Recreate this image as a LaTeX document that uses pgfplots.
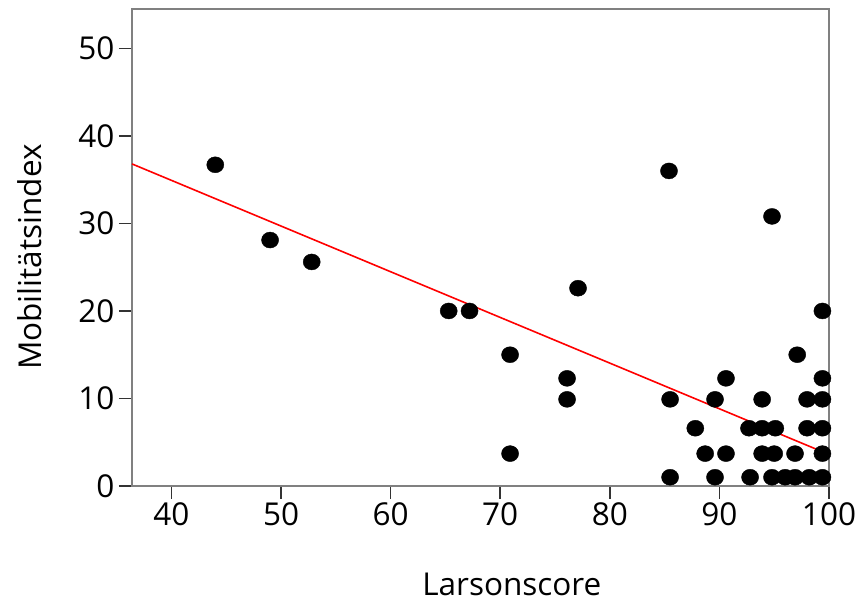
\documentclass[border=0pt]{standalone}
\usepackage{pgfplots}
\pgfplotsset{compat=1.18}
\usepackage{fontspec}
\setmainfont{Open Sans}
\begin{document}
\begin{tikzpicture}[x=1pt,y=1pt]
\begin{axis}[
  scale only axis,
  width=697pt, height=477pt,
  xmin=36.4, xmax=100, ymin=0, ymax=54.5,
  xtick={40,50,60,70,80,90,100},
  ytick={0,10,20,30,40,50},
  axis line style={draw=black!50, line width=2.6pt},
  tick style={draw=black!80, line width=1.6pt},
  tick align=outside,
  major tick length=13pt,
  xtick pos=bottom, ytick pos=left,
  /pgf/number format/assume math mode=true,
  tick label style={font=\fontsize{31.5}{36}\selectfont, text=black},
  xticklabel style={yshift=0pt},
  yticklabel style={xshift=-1pt},
  label style={font=\fontsize{31.5}{36}\selectfont, text=black},
  xlabel={Larsonscore},
  ylabel={Mobilitätsindex},
  xlabel style={at={(axis description cs:0.545,0)}, anchor=base, yshift=-110pt},
  ylabel style={at={(axis description cs:-0.147,0.48)}, anchor=center},
  clip=false,
]
\addplot[red, line width=1.6pt] coordinates {(36.4,36.8) (100,3.6)};
\addplot[only marks, mark=*, mark size=8pt, mark options={fill=black, draw=black, xscale=1.07}]
coordinates {
(44.0,36.7) (49.0,28.1) (52.8,25.6) (65.3,20) (67.2,20)
(70.9,15) (70.9,3.7) (76.1,12.3) (76.1,9.9) (77.1,22.6)
(85.4,36) (85.5,9.9) (85.5,1) (87.8,6.6) (88.7,3.7)
(89.6,9.9) (89.6,1) (90.6,12.3) (90.6,3.7) (92.7,6.6)
(92.8,1) (93.9,9.9) (93.9,6.6) (93.9,3.7) (94.8,30.8)
(95.1,6.6) (95.0,3.7) (94.8,1) (96.0,1) (96.9,1)
(97.1,15) (96.9,3.7) (98.0,9.9) (98.0,6.6) (98.2,1)
(99.4,20) (99.4,12.3) (99.4,9.9) (99.4,6.6) (99.4,3.7) (99.4,1)
};
\coordinate (sw) at (rel axis cs:0,0);
\coordinate (ne) at (rel axis cs:1,1);
\end{axis}
\pgfresetboundingbox
\path ([shift={(-132pt,-119pt)}]sw) rectangle ([shift={(29pt,9pt)}]ne);
\end{tikzpicture}
\end{document}
